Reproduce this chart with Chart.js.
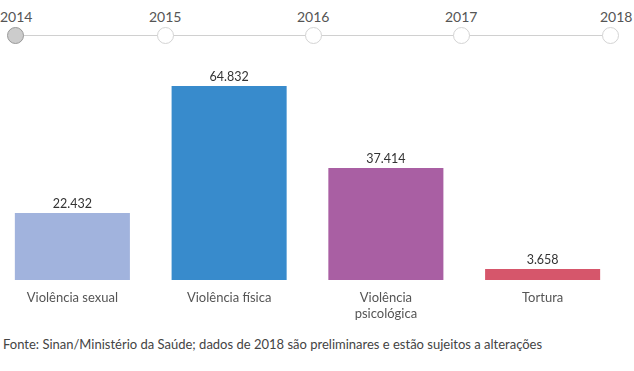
<!DOCTYPE html>
<html><head><meta charset="utf-8">
<script src="https://cdn.jsdelivr.net/npm/chart.js@4/dist/chart.umd.min.js"></script>
<style>
html,body{margin:0;padding:0;background:#fff;width:634px;height:371px;overflow:hidden;position:relative;font-family:Lato,"Open Sans",sans-serif;}
#tl{position:absolute;left:0;top:0;width:634px;height:60px;}
.yr{position:absolute;top:8px;font-size:14px;color:#555;}
.dot{position:absolute;top:27px;width:17px;height:17px;border-radius:50%;border:1px solid #d4d4d4;background:#fff;box-sizing:border-box;}
.line{position:absolute;top:35px;left:15px;width:595px;height:1px;background:#d0d0d0;}
#wrap{position:absolute;left:-6px;top:60px;width:627px;height:265px;}
#src{position:absolute;left:3px;top:336px;font-size:13px;color:#444;white-space:nowrap;}
</style></head>
<body>
<div id="tl"></div>
<div id="wrap"><canvas id="c"></canvas></div>
<div id="src">Fonte: Sinan/Ministério da Saúde; dados de 2018 são preliminares e estão sujeitos a alterações</div>
<script>
const years = ["2014","2015","2016","2017","2018"];
const categories = [["Violência sexual"],["Violência física"],["Violência","psicológica"],["Tortura"]];
const values = [22432, 64832, 37414, 3658];
const valueLabels = ["22.432","64.832","37.414","3.658"];
const colors = ["#a1b3dd","#388bcc","#a95fa3","#d6566b"];

// timeline
const tl = document.getElementById('tl');
const line = document.createElement('div'); line.className='line'; tl.appendChild(line);
const xs = [15,165,313,461,610];
years.forEach((y,i)=>{
  const d=document.createElement('div'); d.className='dot';
  d.style.left=(xs[i]-8.5)+'px';
  if(i===0){d.style.background='#cccccc';d.style.borderColor='#999';}
  tl.appendChild(d);
  const t=document.createElement('div'); t.className='yr'; t.textContent=y;
  tl.appendChild(t);
  const w=t.offsetWidth;
  let left = xs[i]-w/2;
  if(i===0) left=0;
  if(i===years.length-1) left=632-w;
  t.style.left=left+'px';
});

const valuePlugin = {
  id:'vals',
  afterDatasetsDraw(chart){
    const ctx=chart.ctx; const meta=chart.getDatasetMeta(0);
    ctx.save();
    ctx.font='12.5px Lato, "Open Sans", sans-serif';
    ctx.fillStyle='#333'; ctx.textAlign='center'; ctx.textBaseline='bottom';
    meta.data.forEach((b,i)=>{ ctx.fillText(valueLabels[i], b.x, b.y-3); });
    ctx.restore();
  }
};

new Chart(document.getElementById('c'),{
  type:'bar',
  data:{labels:categories,datasets:[{data:values,backgroundColor:colors,borderWidth:0,barPercentage:0.734,categoryPercentage:1}]},
  options:{
    responsive:true,maintainAspectRatio:false,animation:false,
    layout:{padding:{top:26,left:0,right:0,bottom:0}},
    plugins:{legend:{display:false},tooltip:{enabled:false}},
    scales:{
      x:{grid:{display:false},border:{display:false},
         ticks:{color:'#555',font:{size:13,family:'Lato, "Open Sans", sans-serif'},padding:2,maxRotation:0,autoSkip:false},
         afterFit(a){a.height=45;}},
      y:{display:false,min:0,max:64832}
    }
  },
  plugins:[valuePlugin]
});
</script>
</body></html>
